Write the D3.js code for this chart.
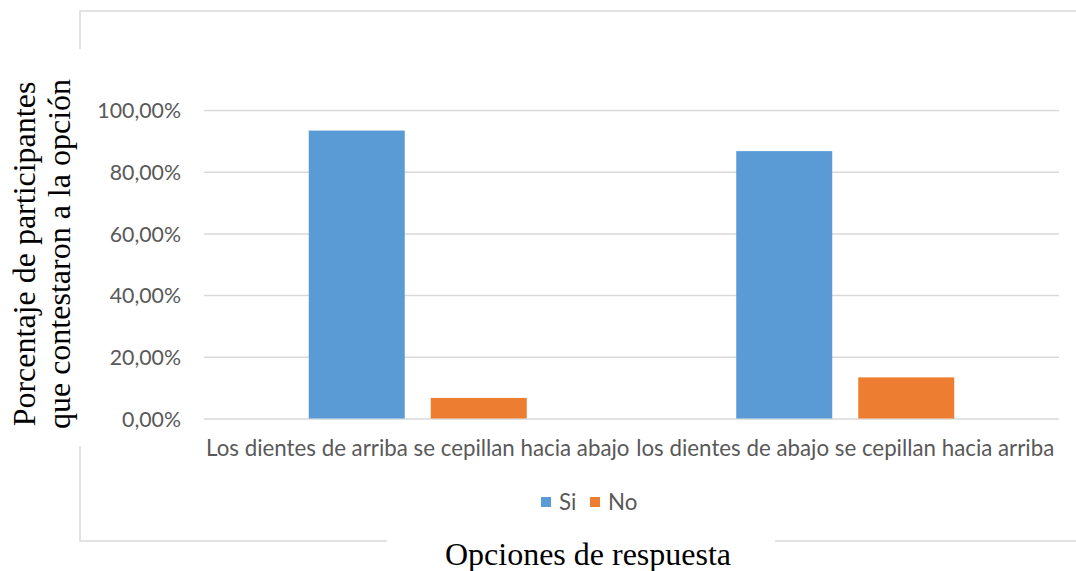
<!DOCTYPE html>
<html>
<head>
<meta charset="utf-8">
<script src="https://cdn.jsdelivr.net/npm/d3@7"></script>
<style>
  html, body { margin: 0; padding: 0; background: #fff; }
  svg { display: block; }
</style>
</head>
<body>
<svg id="chart" width="1076" height="571"></svg>
<script>
// Response options (categories) and the share of participants per answer
const categories = [
  "Los dientes de arriba se cepillan hacia abajo",
  "los dientes de abajo se cepillan hacia arriba"
];
const seriesNames = ["Si", "No"];
const siValues = [0.9333, 0.8667];
const noValues = [0.0667, 0.1333];
const yTicks = [0, 0.2, 0.4, 0.6, 0.8, 1.0];

const colors = { "Si": "#5B9BD5", "No": "#ED7D31" };
const sansFont = "Lato, 'Open Sans', 'Liberation Sans', sans-serif";
const serifFont = "'Liberation Serif', 'Times New Roman', serif";

const rows = categories.map((c, i) => ({ category: c, Si: siValues[i], No: noValues[i] }));

const svg = d3.select("#chart");
svg.append("rect").attr("width", 1076).attr("height", 571).attr("fill", "#fff");

// Chart frame (broken where the axis titles sit)
const frame = svg.append("g").attr("stroke", "#d9d9d9").attr("stroke-width", 1.5).attr("fill", "none");
frame.append("path").attr("d", "M80,49 V11 H1080");
frame.append("path").attr("d", "M80,446 V541 H387");
frame.append("path").attr("d", "M775,541 H1080");

const plot = { left: 204, right: 1059, top: 110, bottom: 418.5 };

const y = d3.scaleLinear().domain([0, 1]).range([plot.bottom, plot.top]);
const x0 = d3.scaleBand().domain(categories).range([plot.left, plot.right]).paddingInner(0).paddingOuter(0);
const x1 = d3.scaleBand().domain(seriesNames).range([0, x0.bandwidth()])
  .paddingInner(26 / 122).paddingOuter(0.8586);

const fmt = v => d3.format(".2f")(v * 100).replace(".", ",") + "%";

// Gridlines + tick labels
const yAxis = d3.axisLeft(y).tickValues(yTicks).tickFormat(fmt)
  .tickSize(-(plot.right - plot.left)).tickPadding(23);
const gy = svg.append("g").attr("transform", `translate(${plot.left},0)`).call(yAxis);
gy.select(".domain").remove();
gy.selectAll(".tick line").attr("stroke", "#d9d9d9").attr("stroke-width", 1.5);
gy.selectAll(".tick text")
  .attr("fill", "#595959")
  .style("font-family", sansFont)
  .style("font-size", "21.3px")
  .attr("dy", "0.36em");

// Bars
const groups = svg.append("g").selectAll("g").data(rows).join("g")
  .attr("transform", d => `translate(${x0(d.category)},0)`);
groups.selectAll("rect")
  .data(d => seriesNames.map(s => ({ key: s, value: d[s] })))
  .join("rect")
  .attr("x", d => x1(d.key))
  .attr("width", x1.bandwidth())
  .attr("y", d => y(d.value))
  .attr("height", d => y(0) - y(d.value))
  .attr("fill", d => colors[d.key]);

// Category labels
const xAxis = d3.axisBottom(x0).tickSize(0).tickPadding(0);
const gx = svg.append("g").attr("transform", `translate(0,${plot.bottom})`).call(xAxis);
gx.select(".domain").remove();
gx.selectAll(".tick text")
  .attr("fill", "#595959")
  .style("font-family", sansFont)
  .style("font-size", "22.3px")
  .attr("dy", null)
  .attr("y", 37.5);

// Legend
const legend = svg.append("g").attr("transform", "translate(541,497)");
const legendOffsets = [0, 49];
seriesNames.forEach((s, i) => {
  const g = legend.append("g").attr("transform", `translate(${legendOffsets[i]},0)`);
  g.append("rect").attr("width", 10).attr("height", 10).attr("fill", colors[s]);
  g.append("text").attr("x", 18).attr("y", 13)
    .attr("fill", "#595959")
    .style("font-family", sansFont).style("font-size", "22.3px")
    .text(s);
});

// Axis titles
const yTitle = svg.append("text")
  .attr("transform", "translate(35,254) rotate(-90)")
  .attr("text-anchor", "middle")
  .style("font-family", serifFont).style("font-size", "32px")
  .attr("fill", "#000");
yTitle.append("tspan").attr("x", 0).attr("y", 0).text("Porcentaje de participantes");
yTitle.append("tspan").attr("x", 0).attr("y", 35).text("que contestaron a la opción");

svg.append("text")
  .attr("x", 588).attr("y", 565)
  .attr("text-anchor", "middle")
  .style("font-family", serifFont).style("font-size", "32px")
  .attr("fill", "#000")
  .text("Opciones de respuesta");
</script>
</body>
</html>
